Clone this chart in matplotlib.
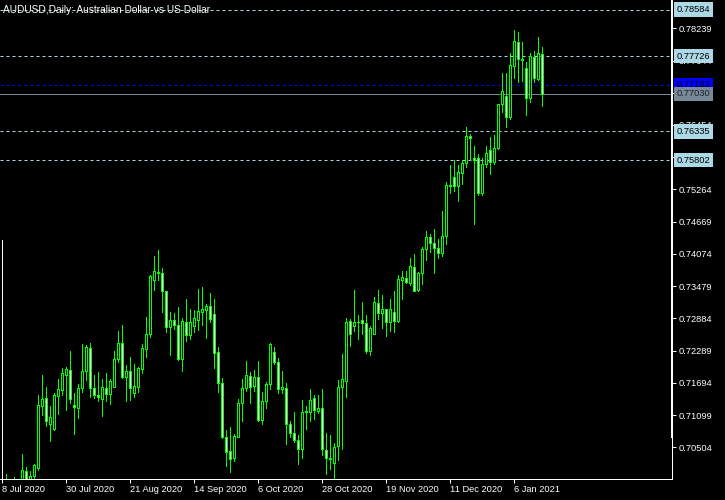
import matplotlib
matplotlib.use('Agg')
import matplotlib.pyplot as plt
import matplotlib.transforms as mtransforms

# daily bars, 8 Jul 2020 .. 15 Jan 2021 (weekdays)
opens = [0.6960, 0.6975, 0.6966, 0.6962, 0.6955, 0.6978, 0.7007, 0.6990, 0.6998, 0.7013,
         0.7127, 0.7141, 0.7094, 0.7085, 0.7145, 0.7156, 0.7184, 0.7193, 0.7128, 0.7122,
         0.7159, 0.7191, 0.7233, 0.7159, 0.7147, 0.7139, 0.7159, 0.7148, 0.7162, 0.7213,
         0.7242, 0.7181, 0.7191, 0.7151, 0.7161, 0.7194, 0.7231, 0.7259, 0.7359, 0.7372,
         0.7372, 0.7338, 0.7272, 0.7285, 0.7276, 0.7213, 0.7281, 0.7257, 0.7275, 0.7286,
         0.7301, 0.7303, 0.7312, 0.7296, 0.7226, 0.7169, 0.7070, 0.7044, 0.7030, 0.7070,
         0.7132, 0.7160, 0.7182, 0.7164, 0.7180, 0.7100, 0.7136, 0.7168, 0.7226, 0.7207,
         0.7158, 0.7159, 0.7093, 0.7076, 0.7064, 0.7047, 0.7116, 0.7116, 0.7141, 0.7118,
         0.7122, 0.7045, 0.7030, 0.7021, 0.7053, 0.7161, 0.7173, 0.7284, 0.7275, 0.7281,
         0.7285, 0.7279, 0.7229, 0.7260, 0.7316, 0.7298, 0.7305, 0.7281, 0.7300, 0.7284,
         0.7360, 0.7362, 0.7354, 0.7383, 0.7340, 0.7372, 0.7416, 0.7439, 0.7428, 0.7418,
         0.7409, 0.7441, 0.7535, 0.7549, 0.7532, 0.7557, 0.7575, 0.7625, 0.7584, 0.7584,
         0.7520, 0.7573, 0.7600, 0.7577, 0.7602, 0.7684, 0.7699, 0.7661, 0.7755, 0.7799,
         0.7767, 0.7750, 0.7695, 0.7771, 0.7730, 0.7777]
highs = [0.6985, 0.7001, 0.6990, 0.6995, 0.6988, 0.7038, 0.7014, 0.7006, 0.7020, 0.7147,
         0.7184, 0.7162, 0.7127, 0.7150, 0.7177, 0.7196, 0.7199, 0.7228, 0.7150, 0.7167,
         0.7241, 0.7239, 0.7243, 0.7184, 0.7189, 0.7176, 0.7187, 0.7176, 0.7228, 0.7265,
         0.7276, 0.7202, 0.7217, 0.7204, 0.7198, 0.7241, 0.7290, 0.7368, 0.7404, 0.7415,
         0.7381, 0.7339, 0.7300, 0.7298, 0.7309, 0.7289, 0.7324, 0.7305, 0.7304, 0.7342,
         0.7346, 0.7315, 0.7335, 0.7324, 0.7235, 0.7178, 0.7082, 0.7087, 0.7075, 0.7139,
         0.7176, 0.7210, 0.7189, 0.7193, 0.7210, 0.7152, 0.7170, 0.7242, 0.7235, 0.7215,
         0.7191, 0.7169, 0.7098, 0.7115, 0.7073, 0.7138, 0.7127, 0.7158, 0.7147, 0.7147,
         0.7158, 0.7076, 0.7073, 0.7059, 0.7175, 0.7223, 0.7289, 0.7287, 0.7341, 0.7295,
         0.7319, 0.7295, 0.7274, 0.7327, 0.7341, 0.7332, 0.7306, 0.7324, 0.7338, 0.7369,
         0.7375, 0.7375, 0.7399, 0.7407, 0.7374, 0.7421, 0.7450, 0.7445, 0.7453, 0.7435,
         0.7487, 0.7540, 0.7572, 0.7580, 0.7572, 0.7581, 0.7641, 0.7629, 0.7607, 0.7592,
         0.7585, 0.7607, 0.7624, 0.7626, 0.7685, 0.7742, 0.7742, 0.7778, 0.7821, 0.7817,
         0.7798, 0.7762, 0.7778, 0.7782, 0.7807, 0.7790]
lows = [0.6945, 0.6958, 0.6950, 0.6935, 0.6945, 0.6970, 0.6975, 0.6978, 0.6990, 0.7009,
        0.7110, 0.7090, 0.7062, 0.7083, 0.7112, 0.7147, 0.7119, 0.7132, 0.7075, 0.7105,
        0.7153, 0.7175, 0.7144, 0.7141, 0.7135, 0.7108, 0.7135, 0.7130, 0.7162, 0.7208,
        0.7178, 0.7135, 0.7138, 0.7144, 0.7153, 0.7187, 0.7217, 0.7254, 0.7340, 0.7359,
        0.7301, 0.7264, 0.7221, 0.7268, 0.7212, 0.7192, 0.7247, 0.7251, 0.7264, 0.7266,
        0.7276, 0.7253, 0.7282, 0.7197, 0.7153, 0.7068, 0.7016, 0.7005, 0.7025, 0.7069,
        0.7099, 0.7154, 0.7132, 0.7155, 0.7099, 0.7093, 0.7122, 0.7158, 0.7204, 0.7150,
        0.7151, 0.7056, 0.7070, 0.7061, 0.7020, 0.7031, 0.7084, 0.7099, 0.7103, 0.7113,
        0.7036, 0.7001, 0.7010, 0.6993, 0.7027, 0.7047, 0.7144, 0.7237, 0.7265, 0.7250,
        0.7260, 0.7224, 0.7221, 0.7260, 0.7287, 0.7271, 0.7255, 0.7265, 0.7264, 0.7282,
        0.7324, 0.7353, 0.7350, 0.7338, 0.7338, 0.7351, 0.7396, 0.7410, 0.7373, 0.7399,
        0.7404, 0.7425, 0.7519, 0.7524, 0.7505, 0.7537, 0.7567, 0.7581, 0.7462, 0.7516,
        0.7516, 0.7568, 0.7555, 0.7574, 0.7601, 0.7670, 0.7641, 0.7656, 0.7733, 0.7725,
        0.7727, 0.7664, 0.7687, 0.7725, 0.7728, 0.7681]
closes = [0.6975, 0.6966, 0.6962, 0.6955, 0.6978, 0.7009, 0.6988, 0.6997, 0.7017, 0.7129,
          0.7139, 0.7098, 0.7106, 0.7147, 0.7158, 0.7187, 0.7194, 0.7140, 0.7124, 0.7159,
          0.7191, 0.7235, 0.7159, 0.7147, 0.7143, 0.7161, 0.7148, 0.7173, 0.7213, 0.7242,
          0.7181, 0.7191, 0.7159, 0.7164, 0.7196, 0.7233, 0.7259, 0.7367, 0.7375, 0.7374,
          0.7339, 0.7272, 0.7285, 0.7276, 0.7213, 0.7283, 0.7257, 0.7281, 0.7289, 0.7302,
          0.7305, 0.7311, 0.7288, 0.7224, 0.7169, 0.7070, 0.7042, 0.7028, 0.7071, 0.7132,
          0.7159, 0.7183, 0.7162, 0.7180, 0.7100, 0.7135, 0.7167, 0.7241, 0.7207, 0.7158,
          0.7161, 0.7093, 0.7076, 0.7064, 0.7047, 0.7115, 0.7117, 0.7138, 0.7119, 0.7122,
          0.7047, 0.7030, 0.7029, 0.7051, 0.7161, 0.7176, 0.7281, 0.7259, 0.7281, 0.7282,
          0.7279, 0.7229, 0.7270, 0.7318, 0.7298, 0.7305, 0.7282, 0.7305, 0.7284, 0.7361,
          0.7364, 0.7356, 0.7385, 0.7339, 0.7372, 0.7416, 0.7439, 0.7427, 0.7419, 0.7409,
          0.7441, 0.7535, 0.7533, 0.7532, 0.7558, 0.7575, 0.7625, 0.7621, 0.7581, 0.7520,
          0.7573, 0.7593, 0.7577, 0.7602, 0.7684, 0.7708, 0.7661, 0.7757, 0.7800, 0.7767,
          0.7765, 0.7695, 0.7772, 0.7732, 0.7778, 0.7703]

date_labels = ['8 Jul 2020', '30 Jul 2020', '21 Aug 2020', '14 Sep 2020', '6 Oct 2020',
               '28 Oct 2020', '19 Nov 2020', '11 Dec 2020', '6 Jan 2021']
date_idx = [0, 16, 32, 48, 64, 80, 96, 112, 128]

price_ticks = [0.70504, 0.71099, 0.71694, 0.72289, 0.72884, 0.73479, 0.74074,
               0.74669, 0.75264, 0.75859, 0.76454, 0.77049, 0.77644, 0.78239]
levels = [0.78584, 0.77726, 0.76335, 0.75802]
blue_level = 0.77193
bid = 0.77030

GREEN = '#00FF00'
px = 0.72  # one pixel in points at dpi 100
FS = 6.7
plt.rcParams['font.family'] = ['Liberation Sans', 'DejaVu Sans']

fig = plt.figure(figsize=(7.25, 5), dpi=100, facecolor='black')
ax = fig.add_axes([0, 21 / 500, 672 / 725, 479 / 500], facecolor='black')

n = len(opens)
xs = list(range(n))
ax.vlines(xs, lows, highs, color=GREEN, linewidth=px, antialiased=False, zorder=3)
for i in xs:
    o, c = opens[i], closes[i]
    bottom = min(o, c)
    h = max(abs(c - o), 0.00004)
    face = 'white' if c < o else 'black'
    ax.bar(i, h, bottom=bottom, width=0.5, facecolor=face, edgecolor=GREEN,
           linewidth=px, antialiased=False, zorder=4)

# level lines
for lv in levels:
    ax.axhline(lv, color='#ADD8E6', linewidth=px, dashes=(3, 3), zorder=2)
ax.axhline(blue_level, color='#0000FF', linewidth=px, dashes=(3, 3), zorder=2)
ax.axhline(bid, color='#778899', linewidth=px, zorder=2)

# white line at left edge
ax.axvline(-0.075, ymin=0, ymax=(479 - 240) / 479, color='white', linewidth=px, zorder=5)

ax.set_xlim(-0.575, 167.425)
ax.set_ylim(0.69918, 0.78761)

for s in ['left', 'top']:
    ax.spines[s].set_visible(False)
for s in ['right', 'bottom']:
    ax.spines[s].set_color('white')
    ax.spines[s].set_linewidth(px)
ax.axvline(167.2, ymin=(479 - 437) / 479, ymax=1, color='white', linewidth=px, zorder=6)

ax.set_xticks(date_idx)
ax.set_xticklabels(date_labels)
ax.tick_params(axis='x', colors='white', length=3, width=px, direction='out', pad=1.5,
               labelsize=FS)
for lab in ax.get_xticklabels():
    lab.set_horizontalalignment('left')

ax.yaxis.tick_right()
ax.set_yticks(price_ticks)
ax.set_yticklabels([f'{v:.5f}' for v in price_ticks])
ax.tick_params(axis='y', colors='white', length=3, width=px, direction='out', pad=1.5,
               labelsize=FS)

trans = mtransforms.blended_transform_factory(ax.transAxes, ax.transData)
box_specs = [(lv, '#ADD8E6', 'black') for lv in levels]
box_specs += [(blue_level, '#0000FF', 'black'), (bid, '#778899', '#202020')]
for lv, fc, tc in box_specs:
    ax.text(1.0075, lv, f'{lv:.5f}', transform=trans, ha='left', va='center',
            fontsize=FS, color=tc, clip_on=False, zorder=10,
            bbox=dict(boxstyle='square,pad=0.28', fc=fc, ec='none'))

ax.text(3 / 672, 1 - 10 / 479, 'AUDUSD,Daily: Australian Dollar vs US Dollar',
        transform=ax.transAxes, ha='left', va='center', fontsize=7.3, color='white',
        zorder=10)

fig.savefig('out.png', dpi=100, facecolor='black')
